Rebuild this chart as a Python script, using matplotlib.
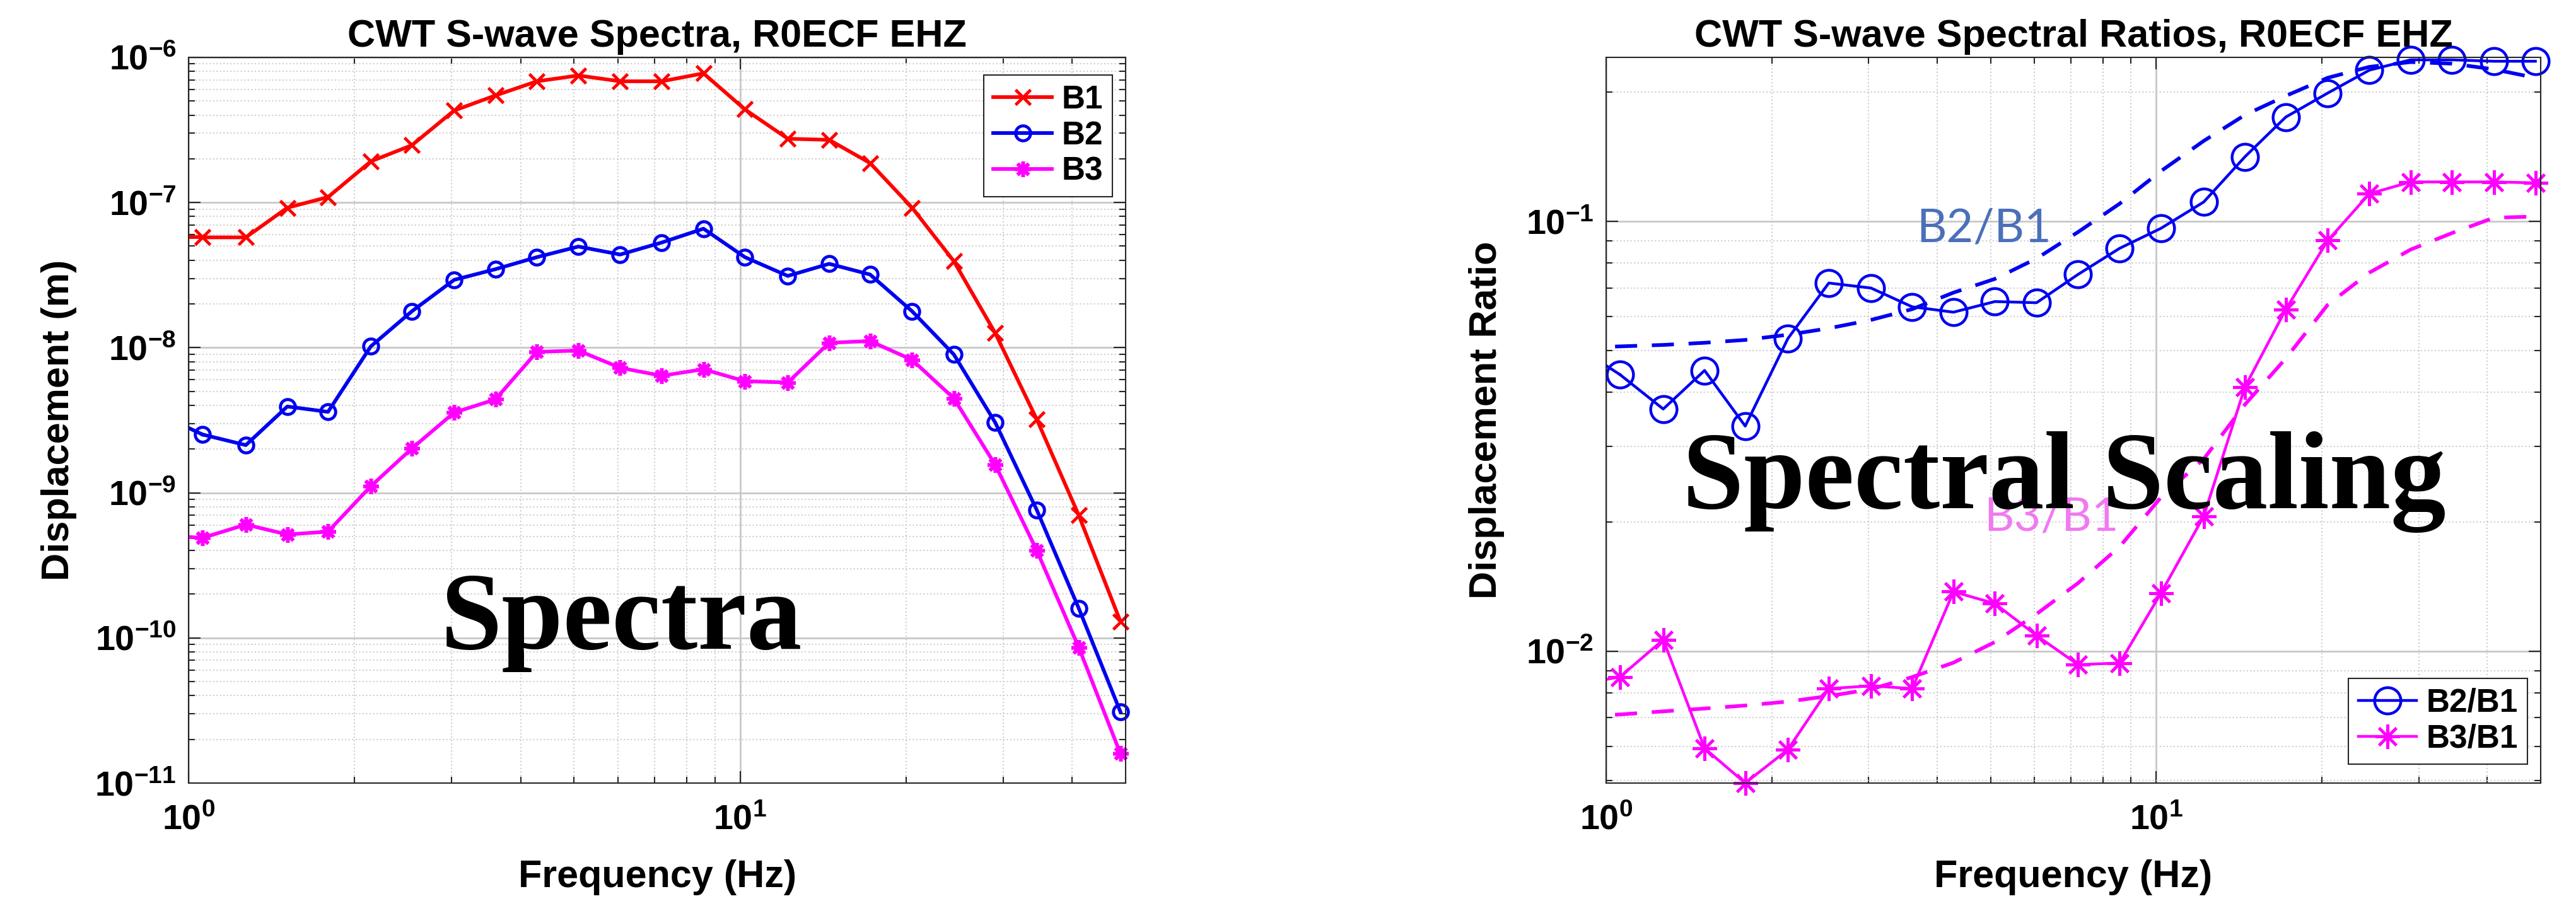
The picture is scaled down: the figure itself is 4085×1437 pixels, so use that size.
import numpy as np
import matplotlib
matplotlib.use('Agg')
import matplotlib.pyplot as plt
from matplotlib.ticker import NullFormatter

plt.rcParams['font.family'] = ['Liberation Sans', 'DejaVu Sans']
plt.rcParams['font.weight'] = 'bold'
plt.rcParams['axes.labelweight'] = 'bold'
plt.rcParams['axes.titleweight'] = 'bold'
plt.rcParams['mathtext.default'] = 'regular'

# frequencies (Hz); first one sits just left of the 1 Hz axis limit
freq = np.array([0.89, 1.06, 1.27, 1.51, 1.79, 2.14, 2.54, 3.03, 3.60, 4.28, 5.09, 6.06,
                 7.21, 8.58, 10.2, 12.2, 14.5, 17.2, 20.5, 24.4, 29.0, 34.5, 41.1, 48.9])

# displacement spectra (m)
b1 = np.array([5.75e-8, 5.75e-8, 5.75e-8, 9.2e-8, 1.09e-7, 1.92e-7, 2.48e-7, 4.3e-7,
               5.46e-7, 6.84e-7, 7.5e-7, 6.84e-7, 6.84e-7, 7.76e-7, 4.38e-7, 2.75e-7,
               2.7e-7, 1.87e-7, 9.2e-8, 3.94e-8, 1.26e-8, 3.2e-9, 7.0e-10, 1.3e-10])
b2 = np.array([3.45e-9, 2.52e-9, 2.13e-9, 3.93e-9, 3.61e-9, 1.02e-8, 1.78e-8, 2.93e-8,
               3.47e-8, 4.2e-8, 4.97e-8, 4.38e-8, 5.3e-8, 6.6e-8, 4.2e-8, 3.12e-8,
               3.78e-8, 3.19e-8, 1.78e-8, 8.97e-9, 3.05e-9, 7.6e-10, 1.6e-10, 3.1e-11])
b3 = np.array([5.1e-10, 4.89e-10, 6.04e-10, 5.16e-10, 5.4e-10, 1.11e-9, 2.02e-9, 3.57e-9,
               4.4e-9, 9.35e-9, 9.55e-9, 7.26e-9, 6.4e-9, 7.1e-9, 5.87e-9, 5.75e-9,
               1.08e-8, 1.11e-8, 8.24e-9, 4.47e-9, 1.56e-9, 4.0e-10, 8.6e-11, 1.6e-11])

# spectral ratios and model curves (dashed)
r21 = np.array([0.0509, 0.0440, 0.0366, 0.0450, 0.0334, 0.0534, 0.0719, 0.0700,
                0.0633, 0.0615, 0.0651, 0.0647, 0.0753, 0.0866, 0.0964, 0.111,
                0.1415, 0.175, 0.199, 0.225, 0.2378, 0.2378, 0.236, 0.236])
r31 = np.array([0.00836, 0.00871, 0.01063, 0.00594, 0.00493, 0.0059, 0.00818, 0.0083,
                0.00818, 0.01375, 0.0129, 0.01087, 0.0093, 0.00938, 0.01364, 0.0206,
                0.0412, 0.0624, 0.0903, 0.116, 0.1236, 0.1236, 0.1236, 0.123])
m21 = np.array([0.0509, 0.0512, 0.0516, 0.0522, 0.0530, 0.0545, 0.0564, 0.0590,
                0.0625, 0.0683, 0.0735, 0.0820, 0.0945, 0.110, 0.131, 0.154,
                0.177, 0.196, 0.216, 0.229, 0.235, 0.233, 0.226, 0.216])
m31 = np.array([0.00705, 0.00712, 0.00724, 0.00735, 0.00747, 0.00763, 0.00786, 0.00815,
                0.00870, 0.00940, 0.01050, 0.01220, 0.01440, 0.01750, 0.0228, 0.0280,
                0.0375, 0.0480, 0.0640, 0.0760, 0.0860, 0.0940, 0.1020, 0.1027])

AX_COL = '#262626'
asterisk = (8, 2, 0)


def style_axes(ax):
    ax.set_xscale('log')
    ax.set_yscale('log')
    ax.grid(True, which='major', color='#c8c8c8', lw=2, ls='-')
    ax.grid(True, which='minor', color='#cfcfcf', lw=1.5, ls=':')
    ax.set_axisbelow(True)
    ax.tick_params(which='both', direction='in', top=True, right=True,
                   colors=AX_COL, width=1.5, labelcolor='black')
    ax.tick_params(which='major', length=14, labelsize=40)
    ax.tick_params(which='minor', length=7)
    ax.tick_params(axis='x', pad=24)
    ax.tick_params(axis='y', pad=14)
    ax.xaxis.set_minor_formatter(NullFormatter())
    ax.yaxis.set_minor_formatter(NullFormatter())
    for s in ax.spines.values():
        s.set_color(AX_COL)
        s.set_linewidth(1.5)


def series(ax, x, y, color, lw, label, **mk):
    # clipped lead-in segment from the point below 1 Hz, then the marked line
    ax.plot(x[:2], y[:2], color=color, lw=lw)
    ax.plot(x[1:], y[1:], color=color, lw=lw, label=label, clip_on=False, **mk)


fig = plt.figure(figsize=(40.85, 14.37), dpi=100)
ax1 = fig.add_axes([0.0732, 0.1357, 0.3638, 0.801])
ax2 = fig.add_axes([0.6235, 0.1357, 0.3628, 0.801])

# ---- left: spectra ----
style_axes(ax1)
series(ax1, freq, b1, 'red', 4.2, 'B1', marker='x', ms=17, mew=3.5)
series(ax1, freq, b2, '#0000f0', 4.2, 'B2', marker='o', ms=17, mew=3.5, mfc='none')
series(ax1, freq, b3, 'magenta', 4.2, 'B3', marker=asterisk, ms=18, mew=4)
ax1.set_xlim(1, 50)
ax1.set_ylim(1e-11, 1e-6)
ax1.set_title('CWT S-wave Spectra, R0ECF EHZ', fontsize=44, fontweight='bold', pad=12)
ax1.set_xlabel('Frequency (Hz)', fontsize=44, fontweight='bold')
ax1.set_ylabel('Displacement (m)', fontsize=44, fontweight='bold')
ax1.xaxis.set_label_coords(0.5, -0.130)
ax1.xaxis.label.set_va('center')
ax1.yaxis.set_label_coords(-0.138, 0.5)
ax1.yaxis.label.set_va('center')
leg1 = ax1.legend(loc='upper right', bbox_to_anchor=(0.986, 0.9757), borderaxespad=0,
                  fontsize=37, fancybox=False, edgecolor=AX_COL, framealpha=1,
                  handlelength=1.8, handletextpad=0.3, labelspacing=0.15, borderpad=0.3)
leg1.get_frame().set_linewidth(1.5)

# ---- right: spectral ratios ----
style_axes(ax2)
ax2.plot(freq, m21, color='#0000f0', lw=4.2, ls=(0, (6, 4)))
ax2.plot(freq, m31, color='magenta', lw=4.2, ls=(0, (6, 4)))
series(ax2, freq, r21, '#0000f0', 3.2, 'B2/B1', marker='o', ms=30, mew=3.2, mfc='none')
series(ax2, freq, r31, 'magenta', 3.2, 'B3/B1', marker=asterisk, ms=28, mew=3.2)
ax2.set_xlim(1, 50)
ax2.set_ylim(0.00493, 0.241)
ax2.set_title('CWT S-wave Spectral Ratios, R0ECF EHZ', fontsize=44, fontweight='bold', pad=12)
ax2.set_xlabel('Frequency (Hz)', fontsize=44, fontweight='bold')
ax2.set_ylabel('Displacement Ratio', fontsize=44, fontweight='bold')
ax2.xaxis.set_label_coords(0.5, -0.130)
ax2.xaxis.label.set_va('center')
ax2.yaxis.set_label_coords(-0.128, 0.5)
ax2.yaxis.label.set_va('center')
ax2.text(4.86, 0.0897, 'B2/B1', color='#4b70b8', fontsize=53, fontweight='normal',
         family=['Lato', 'DejaVu Sans'], ha='center', va='baseline')
ax2.text(6.45, 0.0191, 'B3/B1', color='#f07af0', fontsize=53, fontweight='normal',
         family=['Lato', 'DejaVu Sans'], ha='center', va='baseline')
leg2 = ax2.legend(loc='lower right', bbox_to_anchor=(0.986, 0.026), borderaxespad=0,
                  fontsize=37, fancybox=False, edgecolor=AX_COL, framealpha=1,
                  handlelength=1.8, handletextpad=0.3, labelspacing=0.15, borderpad=0.3)
leg2.get_frame().set_linewidth(1.5)

# big overlay captions
fig.text(985 / 4085, 1 - 1029 / 1437, 'Spectra', ha='center', va='baseline',
         family=['Liberation Serif', 'DejaVu Serif'], fontweight='bold', fontsize=126)
fig.text(3273 / 4085, 1 - 806 / 1437, 'Spectral Scaling', ha='center', va='baseline',
         family=['Liberation Serif', 'DejaVu Serif'], fontweight='bold', fontsize=126)

fig.savefig('out.png', dpi=100)
